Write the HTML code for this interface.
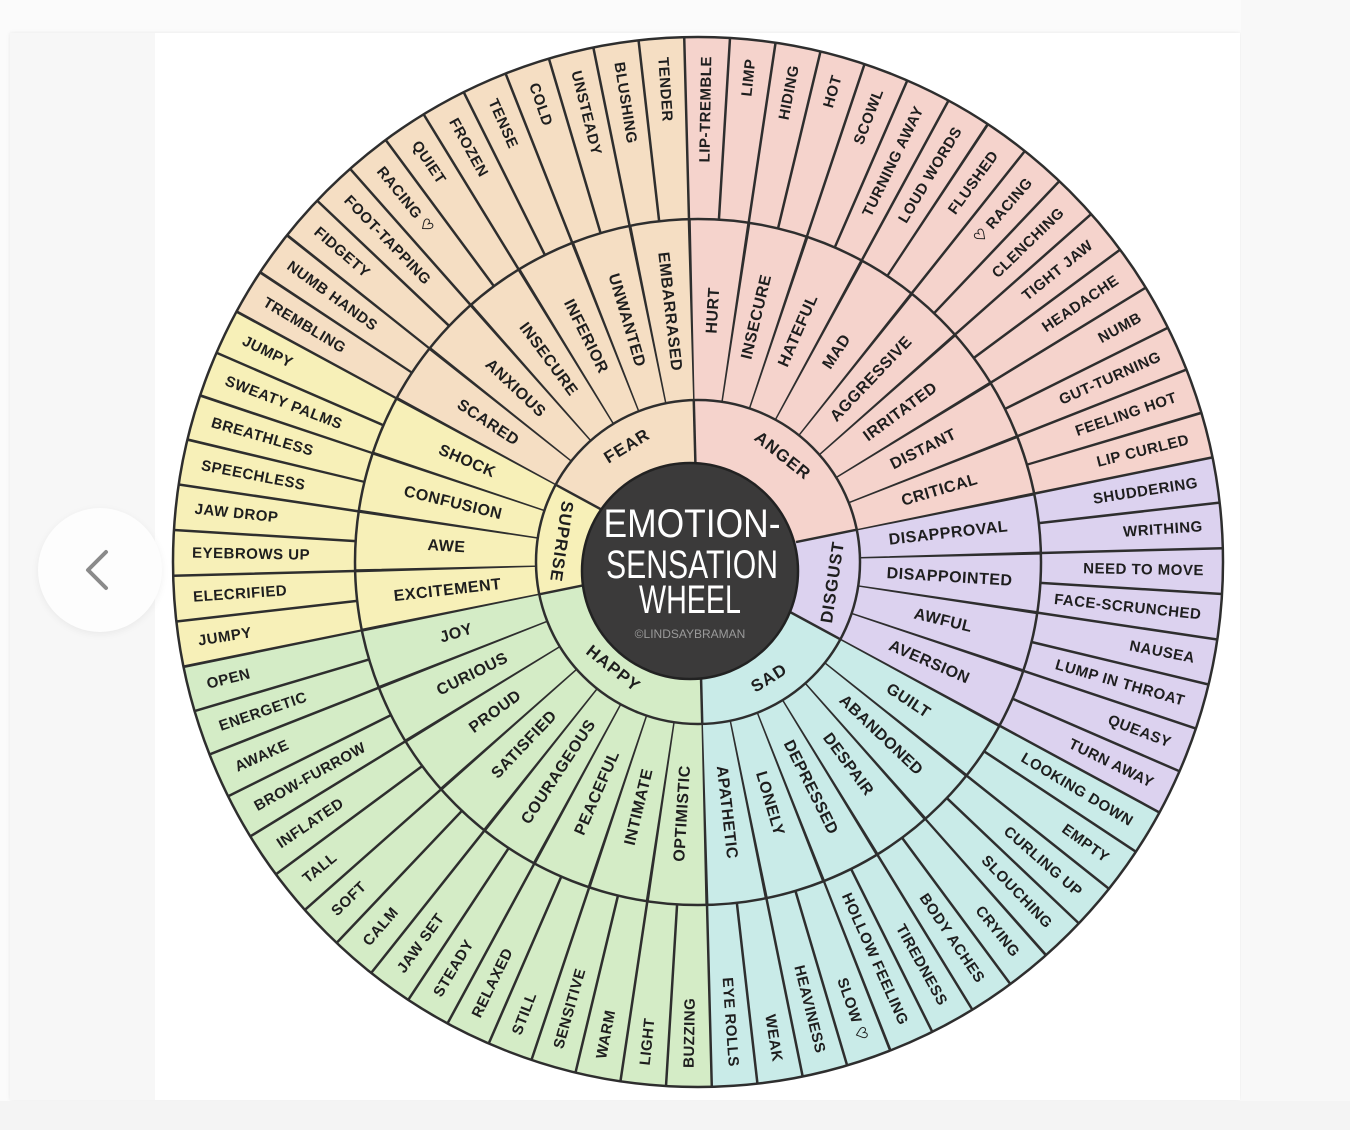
<!DOCTYPE html>
<html><head><meta charset="utf-8">
<style>
html,body{margin:0;padding:0;width:1350px;height:1130px;overflow:hidden;background:#fbfbfb;}
#panel{position:absolute;left:10px;top:33px;width:1230px;height:1067px;background:#fff;box-shadow:0 0 4px rgba(0,0,0,0.08);}
#strip{position:absolute;left:10px;top:33px;width:145px;height:1067px;background:#f7f7f7;}
#bottom{position:absolute;left:0;top:1101px;width:1350px;height:29px;background:#f4f4f4;}
#right{position:absolute;left:1241px;top:0;width:109px;height:1101px;background:#f8f8f8;}
#btn{position:absolute;left:38px;top:508px;width:124px;height:124px;border-radius:50%;background:#fdfdfd;box-shadow:0 2px 8px rgba(0,0,0,0.06);}
#wheel{position:absolute;left:173px;top:37px;width:1050px;height:1050px;border-radius:50%;
background:conic-gradient(from -1.5deg,#f5d3cc 0deg 80deg,#dcd2ef 80deg 120deg,#c9ebe8 120deg 180deg,#d4ecc6 180deg 260deg,#f7f0b8 260deg 300deg,#f5dec3 300deg 360deg);}
svg{position:absolute;left:0;top:0;}
.o{font:bold 15px "Liberation Sans",sans-serif;fill:#1e1e1e;letter-spacing:0.5px;}
.i{font:bold 16px "Liberation Sans",sans-serif;fill:#1e1e1e;letter-spacing:0.5px;}
.c{font:bold 17px "Liberation Sans",sans-serif;fill:#1e1e1e;letter-spacing:1px;}
</style></head><body>
<div id="panel"></div><div id="strip"></div><div id="right"></div><div id="bottom"></div>
<div id="btn"></div>
<div id="wheel"></div>
<svg width="1350" height="1130" viewBox="0 0 1350 1130">
<polyline points="106,552 88,570 106,588" fill="none" stroke="#8a8a8a" stroke-width="4" stroke-linecap="round" stroke-linejoin="round"/>
<g fill="none" stroke="#2e2e2e">
<circle cx="698" cy="562" r="434" stroke-width="182" stroke-dasharray="2.5 35.37" stroke="#2e2e2e" transform="rotate(-1.67 698 562)"/>
<circle cx="698" cy="562" r="252.5" stroke-width="181" stroke-dasharray="2.3 41.77" transform="rotate(-1.76 698 562)"/>
<circle cx="698" cy="562" r="525" stroke-width="2.5"/>
<circle cx="698" cy="562" r="343" stroke-width="2.5"/>
<circle cx="698" cy="562" r="162" stroke-width="2.5"/>
<g stroke-width="2.5">
<line x1="100" y1="0" x2="162" y2="0" transform="translate(698 562) rotate(-91.5)"/>
<line x1="100" y1="0" x2="162" y2="0" transform="translate(698 562) rotate(-11.5)"/>
<line x1="100" y1="0" x2="162" y2="0" transform="translate(698 562) rotate(28.5)"/>
<line x1="100" y1="0" x2="162" y2="0" transform="translate(698 562) rotate(88.5)"/>
<line x1="100" y1="0" x2="162" y2="0" transform="translate(698 562) rotate(168.5)"/>
<line x1="100" y1="0" x2="162" y2="0" transform="translate(698 562) rotate(208.5)"/>
</g>
</g>
<circle cx="690" cy="571" r="108" fill="#3b3a3a" stroke="#222" stroke-width="2.5"/>
<g font-family="Liberation Sans, sans-serif" fill="#fff" text-anchor="middle">
<text x="692" y="537" font-size="40" textLength="177" lengthAdjust="spacingAndGlyphs">EMOTION-</text>
<text x="692" y="578" font-size="40" textLength="172" lengthAdjust="spacingAndGlyphs">SENSATION</text>
<text x="690" y="613" font-size="40" textLength="102" lengthAdjust="spacingAndGlyphs">WHEEL</text>
<text x="690" y="638" font-size="12" fill="#9a9a9a">©LINDSAYBRAMAN</text>
</g>
<g class="c" text-anchor="middle" dominant-baseline="central">
<text transform="translate(698 562) rotate(-121.5) translate(136 0) rotate(90)">FEAR</text>
<text transform="translate(698 562) rotate(-51.5) translate(136 0) rotate(90)">ANGER</text>
<text transform="translate(698 562) rotate(8.5) translate(136 0) rotate(-90)">DISGUST</text>
<text transform="translate(698 562) rotate(58.5) translate(136 0) rotate(-90)">SAD</text>
<text transform="translate(698 562) rotate(128.5) translate(136 0) rotate(-90)">HAPPY</text>
<text transform="translate(698 562) rotate(188.5) translate(138 0) rotate(-90)">SUPRISE</text>
</g>
<g class="i" text-anchor="middle" dominant-baseline="central">
<text transform="translate(698 562) rotate(-86.5) translate(252 0)">HURT</text>
<text transform="translate(698 562) rotate(-76.5) translate(252 0)">INSECURE</text>
<text transform="translate(698 562) rotate(-66.5) translate(252 0)">HATEFUL</text>
<text transform="translate(698 562) rotate(-56.5) translate(252 0)">MAD</text>
<text transform="translate(698 562) rotate(-46.5) translate(252 0)">AGGRESSIVE</text>
<text transform="translate(698 562) rotate(-36.5) translate(252 0)">IRRITATED</text>
<text transform="translate(698 562) rotate(-26.5) translate(252 0)">DISTANT</text>
<text transform="translate(698 562) rotate(-16.5) translate(252 0)">CRITICAL</text>
<text transform="translate(698 562) rotate(-6.5) translate(252 0)">DISAPPROVAL</text>
<text transform="translate(698 562) rotate(3.5) translate(252 0)">DISAPPOINTED</text>
<text transform="translate(698 562) rotate(13.5) translate(252 0)">AWFUL</text>
<text transform="translate(698 562) rotate(23.5) translate(252 0)">AVERSION</text>
<text transform="translate(698 562) rotate(33.5) translate(252 0)">GUILT</text>
<text transform="translate(698 562) rotate(43.5) translate(252 0)">ABANDONED</text>
<text transform="translate(698 562) rotate(53.5) translate(252 0)">DESPAIR</text>
<text transform="translate(698 562) rotate(63.5) translate(252 0)">DEPRESSED</text>
<text transform="translate(698 562) rotate(73.5) translate(252 0)">LONELY</text>
<text transform="translate(698 562) rotate(83.5) translate(252 0)">APATHETIC</text>
<text transform="translate(698 562) rotate(93.5) translate(252 0) rotate(180)">OPTIMISTIC</text>
<text transform="translate(698 562) rotate(103.5) translate(252 0) rotate(180)">INTIMATE</text>
<text transform="translate(698 562) rotate(113.5) translate(252 0) rotate(180)">PEACEFUL</text>
<text transform="translate(698 562) rotate(123.5) translate(252 0) rotate(180)">COURAGEOUS</text>
<text transform="translate(698 562) rotate(133.5) translate(252 0) rotate(180)">SATISFIED</text>
<text transform="translate(698 562) rotate(143.5) translate(252 0) rotate(180)">PROUD</text>
<text transform="translate(698 562) rotate(153.5) translate(252 0) rotate(180)">CURIOUS</text>
<text transform="translate(698 562) rotate(163.5) translate(252 0) rotate(180)">JOY</text>
<text transform="translate(698 562) rotate(173.5) translate(252 0) rotate(180)">EXCITEMENT</text>
<text transform="translate(698 562) rotate(183.5) translate(252 0) rotate(180)">AWE</text>
<text transform="translate(698 562) rotate(193.5) translate(252 0) rotate(180)">CONFUSION</text>
<text transform="translate(698 562) rotate(203.5) translate(252 0) rotate(180)">SHOCK</text>
<text transform="translate(698 562) rotate(213.5) translate(252 0) rotate(180)">SCARED</text>
<text transform="translate(698 562) rotate(223.5) translate(252 0) rotate(180)">ANXIOUS</text>
<text transform="translate(698 562) rotate(233.5) translate(252 0) rotate(180)">INSECURE</text>
<text transform="translate(698 562) rotate(243.5) translate(252 0) rotate(180)">INFERIOR</text>
<text transform="translate(698 562) rotate(253.5) translate(252 0) rotate(180)">UNWANTED</text>
<text transform="translate(698 562) rotate(263.5) translate(252 0) rotate(180)">EMBARRASED</text>
</g>
<g class="o" text-anchor="end" dominant-baseline="central">
<text transform="translate(698 562) rotate(-89) translate(506 0)">LIP-TREMBLE</text>
<text transform="translate(698 562) rotate(-84) translate(506 0)">LIMP</text>
<text transform="translate(698 562) rotate(-79) translate(506 0)">HIDING</text>
<text transform="translate(698 562) rotate(-74) translate(506 0)">HOT</text>
<text transform="translate(698 562) rotate(-69) translate(506 0)">SCOWL</text>
<text transform="translate(698 562) rotate(-64) translate(506 0)">TURNING AWAY</text>
<text transform="translate(698 562) rotate(-59) translate(506 0)">LOUD WORDS</text>
<text transform="translate(698 562) rotate(-54) translate(506 0)">FLUSHED</text>
<text transform="translate(698 562) rotate(-49) translate(506 0)">♡ RACING</text>
<text transform="translate(698 562) rotate(-44) translate(506 0)">CLENCHING</text>
<text transform="translate(698 562) rotate(-39) translate(506 0)">TIGHT JAW</text>
<text transform="translate(698 562) rotate(-34) translate(506 0)">HEADACHE</text>
<text transform="translate(698 562) rotate(-29) translate(506 0)">NUMB</text>
<text transform="translate(698 562) rotate(-24) translate(506 0)">GUT-TURNING</text>
<text transform="translate(698 562) rotate(-19) translate(506 0)">FEELING HOT</text>
<text transform="translate(698 562) rotate(-14) translate(506 0)">LIP CURLED</text>
<text transform="translate(698 562) rotate(-9) translate(506 0)">SHUDDERING</text>
<text transform="translate(698 562) rotate(-4) translate(506 0)">WRITHING</text>
<text transform="translate(698 562) rotate(1) translate(506 0)">NEED TO MOVE</text>
<text transform="translate(698 562) rotate(6) translate(506 0)">FACE-SCRUNCHED</text>
<text transform="translate(698 562) rotate(11) translate(506 0)">NAUSEA</text>
<text transform="translate(698 562) rotate(16) translate(506 0)">LUMP IN THROAT</text>
<text transform="translate(698 562) rotate(21) translate(506 0)">QUEASY</text>
<text transform="translate(698 562) rotate(26) translate(506 0)">TURN AWAY</text>
<text transform="translate(698 562) rotate(31) translate(506 0)">LOOKING DOWN</text>
<text transform="translate(698 562) rotate(36) translate(506 0)">EMPTY</text>
<text transform="translate(698 562) rotate(41) translate(506 0)">CURLING UP</text>
<text transform="translate(698 562) rotate(46) translate(506 0)">SLOUCHING</text>
<text transform="translate(698 562) rotate(51) translate(506 0)">CRYING</text>
<text transform="translate(698 562) rotate(56) translate(506 0)">BODY ACHES</text>
<text transform="translate(698 562) rotate(61) translate(506 0)">TIREDNESS</text>
<text transform="translate(698 562) rotate(66) translate(506 0)">HOLLOW FEELING</text>
<text transform="translate(698 562) rotate(71) translate(506 0)">SLOW ♡</text>
<text transform="translate(698 562) rotate(76) translate(506 0)">HEAVINESS</text>
<text transform="translate(698 562) rotate(81) translate(506 0)">WEAK</text>
<text transform="translate(698 562) rotate(86) translate(506 0)">EYE ROLLS</text>
</g>
<g class="o" text-anchor="start" dominant-baseline="central">
<text transform="translate(698 562) rotate(91) translate(506 0) rotate(180)">BUZZING</text>
<text transform="translate(698 562) rotate(96) translate(506 0) rotate(180)">LIGHT</text>
<text transform="translate(698 562) rotate(101) translate(506 0) rotate(180)">WARM</text>
<text transform="translate(698 562) rotate(106) translate(506 0) rotate(180)">SENSITIVE</text>
<text transform="translate(698 562) rotate(111) translate(506 0) rotate(180)">STILL</text>
<text transform="translate(698 562) rotate(116) translate(506 0) rotate(180)">RELAXED</text>
<text transform="translate(698 562) rotate(121) translate(506 0) rotate(180)">STEADY</text>
<text transform="translate(698 562) rotate(126) translate(506 0) rotate(180)">JAW SET</text>
<text transform="translate(698 562) rotate(131) translate(506 0) rotate(180)">CALM</text>
<text transform="translate(698 562) rotate(136) translate(506 0) rotate(180)">SOFT</text>
<text transform="translate(698 562) rotate(141) translate(506 0) rotate(180)">TALL</text>
<text transform="translate(698 562) rotate(146) translate(506 0) rotate(180)">INFLATED</text>
<text transform="translate(698 562) rotate(151) translate(506 0) rotate(180)">BROW-FURROW</text>
<text transform="translate(698 562) rotate(156) translate(506 0) rotate(180)">AWAKE</text>
<text transform="translate(698 562) rotate(161) translate(506 0) rotate(180)">ENERGETIC</text>
<text transform="translate(698 562) rotate(166) translate(506 0) rotate(180)">OPEN</text>
<text transform="translate(698 562) rotate(171) translate(506 0) rotate(180)">JUMPY</text>
<text transform="translate(698 562) rotate(176) translate(506 0) rotate(180)">ELECRIFIED</text>
<text transform="translate(698 562) rotate(181) translate(506 0) rotate(180)">EYEBROWS UP</text>
<text transform="translate(698 562) rotate(186) translate(506 0) rotate(180)">JAW DROP</text>
<text transform="translate(698 562) rotate(191) translate(506 0) rotate(180)">SPEECHLESS</text>
<text transform="translate(698 562) rotate(196) translate(506 0) rotate(180)">BREATHLESS</text>
<text transform="translate(698 562) rotate(201) translate(506 0) rotate(180)">SWEATY PALMS</text>
<text transform="translate(698 562) rotate(206) translate(506 0) rotate(180)">JUMPY</text>
<text transform="translate(698 562) rotate(211) translate(506 0) rotate(180)">TREMBLING</text>
<text transform="translate(698 562) rotate(216) translate(506 0) rotate(180)">NUMB HANDS</text>
<text transform="translate(698 562) rotate(221) translate(506 0) rotate(180)">FIDGETY</text>
<text transform="translate(698 562) rotate(226) translate(506 0) rotate(180)">FOOT-TAPPING</text>
<text transform="translate(698 562) rotate(231) translate(506 0) rotate(180)">RACING ♡</text>
<text transform="translate(698 562) rotate(236) translate(506 0) rotate(180)">QUIET</text>
<text transform="translate(698 562) rotate(241) translate(506 0) rotate(180)">FROZEN</text>
<text transform="translate(698 562) rotate(246) translate(506 0) rotate(180)">TENSE</text>
<text transform="translate(698 562) rotate(251) translate(506 0) rotate(180)">COLD</text>
<text transform="translate(698 562) rotate(256) translate(506 0) rotate(180)">UNSTEADY</text>
<text transform="translate(698 562) rotate(261) translate(506 0) rotate(180)">BLUSHING</text>
<text transform="translate(698 562) rotate(266) translate(506 0) rotate(180)">TENDER</text>
</g>
</svg>
</body></html>
